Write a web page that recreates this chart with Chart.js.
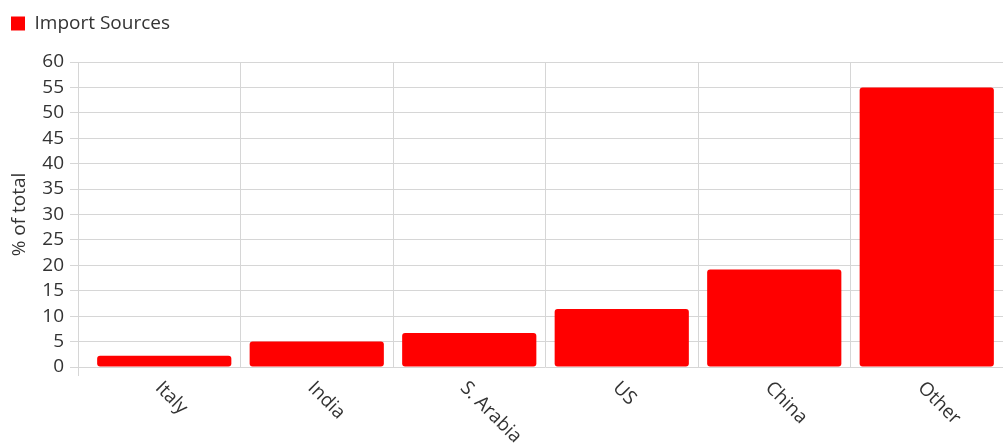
<!DOCTYPE html>
<html>
<head>
<meta charset="utf-8">
<script src="https://cdn.jsdelivr.net/npm/chart.js@4.4.1/dist/chart.umd.min.js"></script>
<style>
  html, body { margin: 0; padding: 0; background: #fff; }
  #wrap { width: 1003px; height: 443px; }
</style>
</head>
<body>
<div id="wrap"><canvas id="importView"></canvas></div>
<script>
const countries = ["Italy", "India", "S. Arabia", "US", "China", "Other"];
const shares = [2.2, 5.0, 6.7, 11.4, 19.2, 55.0];
const seriesName = "Import Sources";
const axisTitle = "% of total";

const textColor = "#333333";
const gridColor = "#d6d6d6";
const fontFamily = "'Open Sans', sans-serif";
const fontSize = 19;

// leave more room between the legend and the plot
const legendGap = {
    id: "legendGap",
    beforeInit(chart) {
        const fit = chart.legend.fit;
        chart.legend.fit = function () {
            fit.call(this);
            this.height += 19;
        };
    },
};

// category labels slant down to the right, starting under each bar
const slantedLabels = {
    id: "slantedLabels",
    afterDraw(chart) {
        const scale = chart.scales.x;
        const ctx = chart.ctx;
        ctx.save();
        ctx.font = `${fontSize}px ${fontFamily}`;
        ctx.fillStyle = textColor;
        ctx.textAlign = "left";
        ctx.textBaseline = "middle";
        scale.ticks.forEach((tick, i) => {
            const x = scale.getPixelForTick(i);
            ctx.save();
            ctx.translate(x - 6, chart.chartArea.bottom + 18);
            ctx.rotate(Math.PI / 4);
            ctx.fillText(scale.getLabelForValue(tick.value), 0, 0);
            ctx.restore();
        });
        ctx.restore();
    },
};

// the value axis line sits a little left of the first category
const valueAxisLine = {
    id: "valueAxisLine",
    beforeDatasetsDraw(chart) {
        const { top, bottom, left } = chart.chartArea;
        const ctx = chart.ctx;
        ctx.save();
        ctx.strokeStyle = gridColor;
        ctx.lineWidth = 1;
        ctx.beginPath();
        ctx.moveTo(left - 9.5, top);
        ctx.lineTo(left - 9.5, bottom + 9);
        ctx.stroke();
        ctx.restore();
    },
};

new Chart(document.getElementById("importView"), {
    type: "bar",
    data: {
        labels: countries,
        datasets: [
            {
                label: seriesName,
                data: shares,
                backgroundColor: "#ff0000",
                borderRadius: 3,
                borderSkipped: false,
                barPercentage: 1,
                categoryPercentage: 0.88,
            },
        ],
    },
    options: {
        responsive: true,
        maintainAspectRatio: false,
        animation: false,
        layout: {
            padding: { top: 3, right: 0, bottom: 76, left: 0 },
        },
        plugins: {
            legend: {
                align: "start",
                labels: {
                    boxWidth: 14,
                    boxHeight: 14,
                    padding: 11,
                    color: textColor,
                    font: { family: fontFamily, size: fontSize },
                },
            },
            tooltip: { enabled: false },
        },
        scales: {
            x: {
                ticks: { display: false },
                grid: {
                    color: (c) => (c.index === 0 ? "rgba(0,0,0,0)" : gridColor),
                    drawTicks: false,
                },
                border: { display: false },
            },
            y: {
                min: 0,
                max: 60,
                ticks: {
                    stepSize: 5,
                    autoSkip: false,
                    padding: 6,
                    color: textColor,
                    font: { family: fontFamily, size: fontSize },
                },
                grid: { color: gridColor, tickLength: 18 },
                border: { display: false },
                title: {
                    display: true,
                    text: axisTitle,
                    color: textColor,
                    font: { family: fontFamily, size: fontSize },
                    padding: { top: 8, bottom: 0 },
                },
                afterFit(scale) {
                    scale.width = 88;
                },
            },
        },
    },
    plugins: [legendGap, slantedLabels, valueAxisLine],
});
</script>
</body>
</html>
